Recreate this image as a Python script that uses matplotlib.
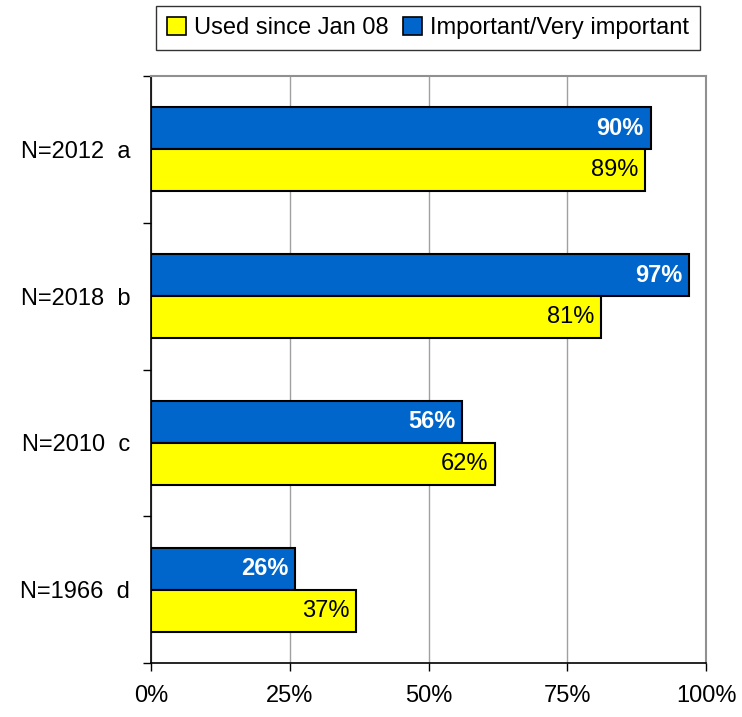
import matplotlib
matplotlib.use("Agg")
import matplotlib.pyplot as plt
from matplotlib.patches import Patch
import numpy as np

plt.rcParams['font.family'] = ['Liberation Sans', 'DejaVu Sans']

categories = ["N=2012  a", "N=2018  b", "N=2010  c", "N=1966  d"]
used_since = [89, 81, 62, 37]
important = [90, 97, 56, 26]
x_ticks = [0, 25, 50, 75, 100]
x_tick_labels = ["0%", "25%", "50%", "75%", "100%"]

yellow = "#FFFF00"
blue = "#0066CC"
fs = 17

fig = plt.figure(figsize=(7.42, 7.17), dpi=100)
ax = fig.add_axes([151 / 742, 1 - 663 / 717, 555 / 742, 587 / 717])

y = np.arange(len(categories))
h = 0.286
ax.barh(y - h / 2, important, height=h, color=blue, edgecolor="black", linewidth=1.5, zorder=3)
ax.barh(y + h / 2, used_since, height=h, color=yellow, edgecolor="black", linewidth=1.5, zorder=3)

for yi, v in zip(y, important):
    ax.text(v - 1.2, yi - h / 2, f"{v}%", ha="right", va="center", color="white",
            fontsize=fs, fontweight="bold", zorder=4)
for yi, v in zip(y, used_since):
    ax.text(v - 1.2, yi + h / 2, f"{v}%", ha="right", va="center", color="black",
            fontsize=fs, zorder=4)

ax.set_xlim(0, 100)
ax.set_ylim(len(categories) - 0.5, -0.5)
ax.set_xticks(x_ticks)
ax.set_xticklabels(x_tick_labels, fontsize=fs)
ax.tick_params(axis="x", direction="out", length=6, width=1, pad=10)

ax.set_yticks(y)
ax.set_yticklabels(categories, fontsize=fs)
ax.tick_params(axis="y", which="major", length=0, pad=15)
ax.set_yticks(np.arange(len(categories) + 1) - 0.5, minor=True)
ax.tick_params(axis="y", which="minor", direction="out", length=6, width=1)

ax.grid(axis="x", color="#A0A0A0", linewidth=1, zorder=0)
ax.set_axisbelow(True)
for side in ("top", "right"):
    ax.spines[side].set_color("#909090")
    ax.spines[side].set_linewidth(1.5)
ax.spines["left"].set_linewidth(1.2)
ax.spines["bottom"].set_linewidth(1.2)

handles = [Patch(facecolor=yellow, edgecolor="black", linewidth=1.2),
           Patch(facecolor=blue, edgecolor="black", linewidth=1.2)]
leg = fig.legend(handles, ["Used since Jan 08", "Important/Very important"],
                 loc="center", bbox_to_anchor=(428 / 742, 1 - 28 / 717), ncol=2,
                 fontsize=fs, frameon=True, fancybox=False, edgecolor="black",
                 handlelength=0.8, handleheight=0.8, handletextpad=0.35,
                 columnspacing=0.6, borderpad=0.45, borderaxespad=0)
leg.get_frame().set_linewidth(1.0)

fig.savefig("out.png", dpi=100, facecolor="white")
